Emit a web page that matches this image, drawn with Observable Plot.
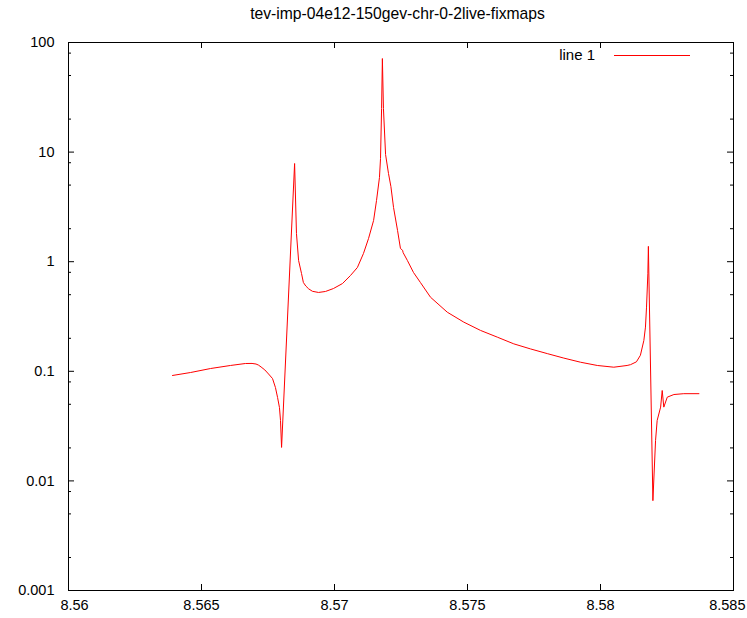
<!DOCTYPE html>
<html>
<head>
<meta charset="utf-8">
<script src="https://cdn.jsdelivr.net/npm/d3@7"></script>
<script src="https://cdn.jsdelivr.net/npm/@observablehq/plot@0.6"></script>
<style>
  html, body { margin: 0; padding: 0; background: white; }
  #wrap { width: 747px; position: relative; font-family: "Liberation Sans", Arial, sans-serif; }
  #title { height: 30px; position: relative; }
  #title span { position: absolute; left: 0; width: 795px; text-align: center; top: 5px; font-size: 15.7px; color: #000; white-space: nowrap; }
</style>
</head>
<body>
<div id="wrap">
  <div id="title"><span>tev-imp-04e12-150gev-chr-0-2live-fixmaps</span></div>
  <div id="chart"></div>
</div>
<script>
// Data
const energy = [
  8.56391, 8.56459, 8.56534, 8.56609, 8.56665, 8.56690, 8.56705, 8.56714, 8.56724, 8.56738,
  8.56752, 8.56767, 8.56778, 8.56786, 8.56793, 8.56797, 8.56801,
  8.56850, 8.56857, 8.56865, 8.56876, 8.56883, 8.56892, 8.56903, 8.56917, 8.56940, 8.56966,
  8.56996, 8.57030, 8.57060, 8.57086, 8.57109, 8.57128, 8.57147, 8.57158, 8.57169, 8.57173,
  8.57177, 8.57180, 8.57184, 8.57192, 8.57203, 8.57212, 8.57222, 8.57237, 8.57248, 8.57256,
  8.57258, 8.57274, 8.57297, 8.57323, 8.57361, 8.57424, 8.57486, 8.57549, 8.57612, 8.57674,
  8.57737, 8.57800, 8.57862, 8.57925, 8.57988, 8.58050, 8.58100, 8.58113, 8.58135, 8.58150,
  8.58163, 8.58169, 8.58173, 8.58178, 8.58180, 8.58197, 8.58207, 8.58213, 8.58226, 8.58232,
  8.58238, 8.58251, 8.58276, 8.58313, 8.58370
];
const amplitude = [
  0.0916, 0.0975, 0.106, 0.113, 0.1178, 0.118, 0.1165, 0.114, 0.1095, 0.103,
  0.0945, 0.0859, 0.0711, 0.0577, 0.0468, 0.0356, 0.0202,
  7.87, 1.81, 1.026, 0.780, 0.646, 0.600, 0.565, 0.537, 0.524, 0.535,
  0.569, 0.632, 0.748, 0.885, 1.19, 1.63, 2.38, 3.62, 5.86, 8.74,
  25.0, 71.4, 25.0, 9.5, 6.38, 4.85, 3.12, 1.93, 1.32, 1.27,
  1.21, 1.026, 0.797, 0.646, 0.474, 0.346, 0.281, 0.236, 0.205, 0.178,
  0.160, 0.145, 0.132, 0.121, 0.113, 0.109, 0.113, 0.115, 0.122, 0.140,
  0.191, 0.253, 0.385, 0.776, 1.38, 0.0066, 0.0234, 0.0356, 0.0471, 0.0668,
  0.0471, 0.0581, 0.0614, 0.0625, 0.0625
];
const xTicks = [8.56, 8.565, 8.57, 8.575, 8.58, 8.585];
const xTickLabels = ["8.56", "8.565", "8.57", "8.575", "8.58", "8.585"];
const yTicks = [0.001, 0.01, 0.1, 1, 10, 100];
const yTickLabels = ["0.001", "0.01", "0.1", "1", "10", "100"];
const yMinorTicks = [0.002, 0.005, 0.008, 0.02, 0.05, 0.08, 0.2, 0.5, 0.8, 2, 5, 8, 20, 50, 80];
const seriesName = "line 1";

const data = energy.map((e, i) => ({x: e, y: amplitude[i]}));

const W = 747, H = 588;
const mt = 12, mb = 28, ml = 68, mr = 14;
const pw = W - ml - mr, ph = H - mt - mb;
const tickFont = 14.5;

const legend = () => {
  const g = d3.create("svg:g");
  g.append("text")
    .attr("x", 595).attr("y", 25).attr("dy", "0.35em")
    .attr("text-anchor", "end").attr("fill", "black")
    .attr("font-size", 15)
    .text(seriesName);
  g.append("line")
    .attr("x1", 614).attr("x2", 690).attr("y1", 25.5).attr("y2", 25.5)
    .attr("stroke", "#ff0000").attr("stroke-width", 1);
  return g.node();
};

const lastX = xTicks.length - 1;

const chart = Plot.plot({
  width: W, height: H,
  marginTop: mt, marginBottom: mb, marginLeft: ml, marginRight: mr,
  style: {fontFamily: "'Liberation Sans', Arial, sans-serif", fontSize: "15px", background: "white", color: "black"},
  x: {domain: [8.56, 8.585], axis: null},
  y: {type: "log", domain: [0.001, 100], axis: null},
  marks: [
    // major y ticks, left and right, inward
    Plot.tickY(yTicks, {y: d => d, insetRight: pw - 6, stroke: "black"}),
    Plot.tickY(yTicks, {y: d => d, insetLeft: pw - 6, stroke: "black"}),
    Plot.tickY(yMinorTicks, {y: d => d, insetRight: pw - 3, stroke: "black"}),
    Plot.tickY(yMinorTicks, {y: d => d, insetLeft: pw - 3, stroke: "black"}),
    // x ticks bottom and top
    Plot.tickX(xTicks, {x: d => d, insetTop: ph - 6, stroke: "black"}),
    Plot.tickX(xTicks, {x: d => d, insetBottom: ph - 6, stroke: "black"}),
    // tick labels
    Plot.text(yTicks, {y: d => d, text: (d, i) => yTickLabels[i], frameAnchor: "left", dx: -14, textAnchor: "end", fontSize: tickFont, fill: "black"}),
    Plot.text(xTicks.slice(0, 1), {x: d => d, text: () => xTickLabels[0], frameAnchor: "bottom", dy: 15, lineAnchor: "middle", dx: 6, fontSize: tickFont, fill: "black"}),
    Plot.text(xTicks.slice(1, lastX), {x: d => d, text: (d, i) => xTickLabels[i + 1], frameAnchor: "bottom", dy: 15, lineAnchor: "middle", fontSize: tickFont, fill: "black"}),
    Plot.text(xTicks.slice(lastX), {x: d => d, text: () => xTickLabels[lastX], frameAnchor: "bottom", dy: 15, lineAnchor: "middle", textAnchor: "end", dx: 12, fontSize: tickFont, fill: "black"}),
    Plot.line(data, {x: "x", y: "y", stroke: "#ff0000", strokeWidth: 1}),
    Plot.frame({stroke: "black", strokeWidth: 1}),
    legend
  ]
});
document.getElementById("chart").appendChild(chart);
</script>
</body>
</html>
